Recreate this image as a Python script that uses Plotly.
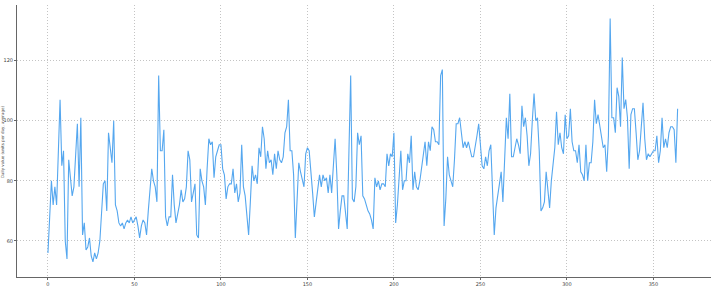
import plotly.graph_objects as go

days = list(range(365))
values = [
    56, 68, 80, 72, 78, 72, 90, 107, 85, 90, 60, 54, 87, 80, 75, 78, 88, 99, 78, 101,
    62, 66, 57, 58, 61, 55, 53, 56, 54, 56, 60, 70, 79, 80, 70, 96, 90, 86, 100, 72,
    70, 66, 65, 66, 64, 66, 67, 66, 68, 66, 67, 68, 65, 61, 65, 67, 66, 62, 70, 78,
    84, 80, 78, 73, 115, 90, 90, 97, 68, 65, 68, 68, 82, 72, 66, 69, 72, 77, 73, 74,
    78, 90, 87, 73, 76, 79, 62, 61, 84, 80, 78, 72, 84, 94, 92, 93, 81, 88, 90, 92,
    92, 84, 82, 74, 78, 79, 79, 84, 76, 79, 73, 76, 92, 78, 75, 69, 62, 73, 85, 80,
    82, 79, 91, 88, 98, 94, 84, 90, 86, 87, 82, 89, 84, 90, 87, 86, 88, 96, 98, 107,
    90, 90, 82, 61, 74, 86, 83, 80, 78, 89, 91, 90, 84, 76, 68, 73, 78, 82, 78, 82,
    80, 81, 76, 82, 76, 87, 94, 82, 64, 70, 75, 75, 69, 64, 90, 115, 74, 73, 78, 96,
    92, 95, 75, 74, 72, 70, 69, 67, 64, 81, 78, 80, 77, 79, 79, 78, 89, 85, 89, 88,
    96, 66, 72, 80, 90, 77, 80, 80, 89, 86, 95, 77, 83, 78, 77, 80, 84, 88, 93, 85,
    93, 90, 98, 97, 93, 93, 92, 115, 117, 65, 74, 88, 82, 80, 78, 87, 99, 99, 101, 96,
    91, 93, 91, 93, 90, 88, 88, 91, 95, 99, 93, 85, 84, 88, 85, 90, 92, 78, 62, 71,
    75, 78, 83, 73, 87, 101, 94, 109, 88, 88, 91, 94, 92, 89, 105, 98, 101, 95, 85, 89,
    100, 109, 100, 101, 90, 70, 71, 73, 83, 78, 71, 80, 87, 91, 103, 92, 96, 91, 89, 102,
    94, 95, 104, 93, 90, 90, 86, 92, 83, 82, 80, 92, 80, 86, 86, 93, 107, 99, 102, 98,
    94, 91, 92, 83, 95, 134, 101, 101, 96, 111, 108, 98, 121, 104, 107, 101, 84, 102, 104, 104,
    96, 87, 90, 98, 106, 94, 87, 89, 88, 89, 90, 90, 95, 86, 90, 101, 91, 94, 91, 96,
    98, 98, 97, 86, 104,
]
x_ticks = [0, 50, 100, 150, 200, 250, 300, 350]
y_ticks = [60, 80, 100, 120]
x_label = "Day"
y_label = "Daily value (units per day, average)"

fig = go.Figure()
fig.add_trace(go.Scatter(x=days, y=values, mode="lines",
                         line=dict(color="#55a7ef", width=1.1), hoverinfo="skip"))

grid = dict(showgrid=True, gridcolor="#c4c4c4", griddash="1px,2px", gridwidth=1,
            zeroline=False, showline=True, linecolor="#666666", linewidth=1,
            ticks="outside", ticklen=2, tickcolor="#666666",
            tickfont=dict(family="DejaVu Sans", size=5, color="#444444"))

fig.update_layout(
    width=711, height=288,
    margin=dict(l=17, r=0, t=5, b=11),
    paper_bgcolor="white", plot_bgcolor="white",
    showlegend=False,
    xaxis=dict(range=[-17.9, 383.3], tickvals=x_ticks, **grid),
    yaxis=dict(range=[48.0, 138.5], tickvals=y_ticks, **grid),
    annotations=[
        dict(text=x_label, x=0.49, xref="paper", y=-8, yref="y", yanchor="top",
             showarrow=False, font=dict(family="DejaVu Sans", size=6, color="#444444")),
        dict(text=y_label, x=-0.0262, xref="paper", y=93, yref="y", textangle=-90,
             xanchor="left", yanchor="middle", showarrow=False, borderpad=0,
             font=dict(family="DejaVu Sans", size=4, color="#444444")),
    ],
)

fig.write_html("out.html")
